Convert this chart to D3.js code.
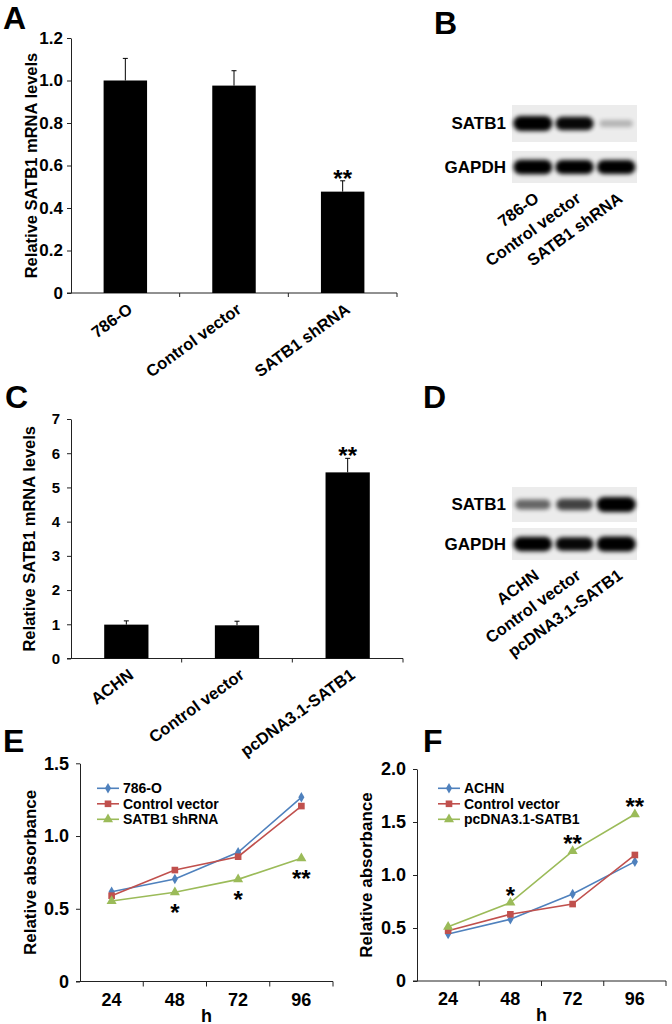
<!DOCTYPE html>
<html><head><meta charset="utf-8">
<script src="https://cdn.jsdelivr.net/npm/d3@7"></script>
<style>
body{margin:0;background:#fff}
svg{display:block;font-family:"Liberation Sans",Arial,Helvetica,sans-serif;font-weight:bold}
</style>
</head><body>
<svg id="c" width="672" height="1024"></svg>
<script>
// ---------- DATA ----------
const catsA = ["786-O", "Control vector", "SATB1 shRNA"];
const valsA = [1.0, 0.976, 0.477];
const errA = [0.104, 0.07, 0.051];
const sigA = ["", "", "**"];
const ticksA = [0, 0.2, 0.4, 0.6, 0.8, 1.0, 1.2];

const catsC = ["ACHN", "Control vector", "pcDNA3.1-SATB1"];
const valsC = [0.99, 0.97, 5.44];
const errC = [0.11, 0.12, 0.41];
const sigC = ["", "", "**"];
const ticksC = [0, 1, 2, 3, 4, 5, 6, 7];

const proteins = ["SATB1", "GAPDH"];
const lanesB = ["786-O", "Control vector", "SATB1 shRNA"];
const satb1B = [1.0, 0.85, 0.12];
const gapdhB = [0.95, 0.88, 0.88];
const lanesD = ["ACHN", "Control vector", "pcDNA3.1-SATB1"];
const satb1D = [0.45, 0.6, 1.0];
const gapdhD = [0.92, 0.85, 1.0];

const hours = ["24", "48", "72", "96"];
const seriesE = ["786-O", "Control vector", "SATB1 shRNA"];
const e786 = [0.617, 0.704, 0.888, 1.266];
const eCtrl = [0.59, 0.766, 0.858, 1.206];
const eSh = [0.553, 0.613, 0.702, 0.847];
const sigE = ["", "*", "*", "**"];
const ticksE = [0, 0.5, 1.0, 1.5];

const seriesF = ["ACHN", "Control vector", "pcDNA3.1-SATB1"];
const fAchn = [0.443, 0.582, 0.821, 1.126];
const fCtrl = [0.475, 0.629, 0.726, 1.189];
const fOver = [0.512, 0.739, 1.226, 1.573];
const sigF = ["", "*", "**", "**"];
const ticksF = [0, 0.5, 1.0, 1.5, 2.0];

const colors = ["#4F81BD", "#C0504D", "#9BBB59"];
const symbols = [d3.symbolDiamond, d3.symbolSquare, d3.symbolTriangle];

// ---------- DRAW ----------
const svg = d3.select("#c");
const defs = svg.append("defs");
defs.append("filter").attr("id","blur").attr("x","-30%").attr("y","-60%").attr("width","160%").attr("height","220%")
  .append("feGaussianBlur").attr("stdDeviation", 2);

function letter(t, x, y) {
  svg.append("text").attr("x", x).attr("y", y).attr("font-size", 32).text(t);
}
function styleAxis(s, fs) {
  s.selectAll("text").attr("font-size", fs).attr("font-weight", "bold").attr("fill", "#000").attr("font-family", null);
  s.selectAll("line,path").attr("stroke", "#222");
}
function yTitle(g, t, x, y, fs) {
  g.append("text").attr("transform", `translate(${x},${y}) rotate(-90)`)
    .attr("text-anchor", "middle").attr("font-size", fs).text(t);
}
function stars(g, t, x, yc, fs) {
  g.append("text").attr("x", x).attr("y", yc + fs * 0.58).attr("text-anchor", "middle")
    .attr("font-size", fs).text(t);
}

function barPanel(o) {
  const g = svg.append("g");
  const x = d3.scaleBand().domain(o.cats).range([o.x0, o.x1]);
  const y = d3.scaleLinear().domain([0, o.max]).range([o.yb, o.yt]);
  g.append("g").attr("transform", `translate(${o.x0},0)`)
    .call(d3.axisLeft(y).tickValues(o.ticks).tickSize(4).tickSizeOuter(0).tickPadding(o.pad).tickFormat(o.fmt))
    .call(s => styleAxis(s, o.tfs));
  g.append("line").attr("x1", o.x0 - 4).attr("x2", o.x1).attr("y1", o.yb).attr("y2", o.yb).attr("stroke", "#222");
  g.selectAll("line.xt").data(o.cats).join("line").attr("class", "xt")
    .attr("x1", d => x(d) + x.bandwidth()).attr("x2", d => x(d) + x.bandwidth())
    .attr("y1", o.yb).attr("y2", o.yb + 4).attr("stroke", "#222");
  const bw = x.bandwidth() * 0.4;
  g.selectAll("rect.bar").data(o.cats).join("rect").attr("class", "bar")
    .attr("x", d => x(d) + x.bandwidth() / 2 - bw / 2).attr("width", bw)
    .attr("y", (d, i) => y(o.vals[i])).attr("height", (d, i) => o.yb - y(o.vals[i]))
    .attr("fill", "#000");
  o.cats.forEach((c, i) => {
    const cx = x(c) + x.bandwidth() / 2;
    const top = y(o.vals[i] + o.errs[i]);
    g.append("line").attr("x1", cx).attr("x2", cx).attr("y1", y(o.vals[i])).attr("y2", top).attr("stroke", "#000");
    g.append("line").attr("x1", cx - 2.5).attr("x2", cx + 2.5).attr("y1", top).attr("y2", top).attr("stroke", "#000");
    if (o.sigs[i]) stars(g, o.sigs[i], cx, top - 8, 24);
    g.append("text").attr("transform", `translate(${cx + 5},${o.yb + 14}) rotate(-36)`)
      .attr("text-anchor", "end").attr("dy", "0.35em").attr("font-size", 16.5).text(c);
  });
  yTitle(g, o.title, o.tx, (o.yb + o.yt) / 2, 16.5);
}

function blotPanel(o) {
  const g = svg.append("g");
  const x = d3.scaleBand().domain(o.lanes).range([o.x0, o.x1]);
  o.rows.forEach((r, ri) => {
    g.append("rect").attr("x", o.x0).attr("y", r.y0).attr("width", o.x1 - o.x0).attr("height", r.y1 - r.y0)
      .attr("fill", "#ececec");
    const cy = (r.y0 + r.y1) / 2;
    o.lanes.forEach((l, li) => {
      const v = r.vals[li];
      const h = 6 + 9 * v;
      const w = x.bandwidth() * (0.78 + 0.16 * v);
      g.append("rect").attr("x", x(l) + x.bandwidth() / 2 - w / 2).attr("y", cy - h / 2)
        .attr("width", w).attr("height", h).attr("rx", h / 2)
        .attr("fill", "#000").attr("opacity", Math.min(1, 0.12 + v))
        .attr("filter", "url(#blur)");
    });
    g.append("text").attr("x", o.x0 - 6).attr("y", cy).attr("dy", "0.35em").attr("text-anchor", "end")
      .attr("font-size", 17).text(proteins[ri]);
  });
  o.lanes.forEach(l => {
    const cx = x(l) + x.bandwidth() / 2;
    g.append("text").attr("transform", `translate(${cx + 4},${o.rows[1].y1 + 13}) rotate(-36)`)
      .attr("text-anchor", "end").attr("dy", "0.35em").attr("font-size", 16.5).text(l);
  });
}

function linePanel(o) {
  const g = svg.append("g");
  const x = d3.scaleBand().domain(hours).range([o.x0, o.x1]);
  const y = d3.scaleLinear().domain([0, o.max]).range([o.yb, o.yt]);
  g.append("g").attr("transform", `translate(${o.x0},0)`)
    .call(d3.axisLeft(y).tickValues(o.ticks).tickSize(4).tickSizeOuter(0).tickPadding(7)
      .tickFormat(d => d === 0 ? "0" : d3.format(".1f")(d)))
    .call(s => styleAxis(s, 18));
  g.append("line").attr("x1", o.x0 - 4).attr("x2", o.x1).attr("y1", o.yb).attr("y2", o.yb).attr("stroke", "#222");
  g.selectAll("line.xt").data(hours).join("line").attr("class", "xt")
    .attr("x1", d => x(d) + x.bandwidth()).attr("x2", d => x(d) + x.bandwidth())
    .attr("y1", o.yb).attr("y2", o.yb + 5).attr("stroke", "#222");
  g.selectAll("text.xl").data(hours).join("text").attr("class", "xl")
    .attr("x", d => x(d) + x.bandwidth() / 2).attr("y", o.yb + 24).attr("text-anchor", "middle")
    .attr("font-size", 18).text(d => d);
  g.append("text").attr("x", (o.x0 + o.x1) / 2).attr("y", o.yb + 40).attr("text-anchor", "middle")
    .attr("font-size", 18).text("h");
  const line = d3.line().x((d, i) => x(hours[i]) + x.bandwidth() / 2).y(d => y(d));
  o.series.forEach((s, si) => {
    g.append("path").attr("d", line(o.data[si])).attr("fill", "none").attr("stroke", colors[si]).attr("stroke-width", 1.6);
    g.selectAll(null).data(o.data[si]).join("path")
      .attr("transform", (d, i) => `translate(${x(hours[i]) + x.bandwidth() / 2},${y(d)})`)
      .attr("d", d3.symbol().type(symbols[si]).size(si === 0 ? 32 : 44)).attr("fill", colors[si]);
    const ly = o.ly + si * 15.5;
    g.append("line").attr("x1", o.lx).attr("x2", o.lx + 22).attr("y1", ly).attr("y2", ly).attr("stroke", colors[si]).attr("stroke-width", 1.6);
    g.append("path").attr("transform", `translate(${o.lx + 11},${ly})`)
      .attr("d", d3.symbol().type(symbols[si]).size(si === 0 ? 32 : 44)).attr("fill", colors[si]);
    g.append("text").attr("x", o.lx + 26).attr("y", ly).attr("dy", "0.35em").attr("font-size", 14).text(s);
  });
  o.sigs.forEach((t, i) => {
    if (!t) return;
    const gy = y(o.data[2][i]);
    stars(g, t, x(hours[i]) + x.bandwidth() / 2, gy + o.starOff, 24);
  });
  yTitle(g, "Relative absorbance", o.tx, (o.yb + o.yt) / 2, 17);
}

// Panel A
letter("A", 3, 29);
barPanel({cats: catsA, vals: valsA, errs: errA, sigs: sigA, ticks: ticksA, max: 1.2,
  x0: 71, x1: 397, yb: 293, yt: 38, fmt: d => d === 0 ? "0" : d3.format(".1f")(d), tfs: 17, pad: 4,
  title: "Relative SATB1 mRNA levels", tx: 37});
// Panel B
letter("B", 434, 34);
blotPanel({lanes: lanesB, x0: 512, x1: 637,
  rows: [{y0: 105, y1: 142, vals: satb1B}, {y0: 151, y1: 183, vals: gapdhB}]});
// Panel C
letter("C", 5, 408);
barPanel({cats: catsC, vals: valsC, errs: errC, sigs: sigC, ticks: ticksC, max: 7,
  x0: 71, x1: 403, yb: 658.5, yt: 419, fmt: d3.format("d"), tfs: 15, pad: 7,
  title: "Relative SATB1 mRNA levels", tx: 35});
// Panel D
letter("D", 423, 408);
blotPanel({lanes: lanesD, x0: 512, x1: 637,
  rows: [{y0: 487, y1: 522, vals: satb1D}, {y0: 528, y1: 560, vals: gapdhD}]});
// Panel E
letter("E", 3, 752);
linePanel({series: seriesE, data: [e786, eCtrl, eSh], sigs: sigE, ticks: ticksE, max: 1.5,
  x0: 80, x1: 333, yb: 981.5, yt: 763.3, lx: 97, ly: 788.3, starOff: 15, tx: 36});
// Panel F
letter("F", 423, 752);
linePanel({series: seriesF, data: [fAchn, fCtrl, fOver], sigs: sigF, ticks: ticksF, max: 2.0,
  x0: 417, x1: 666, yb: 981, yt: 769, lx: 438, ly: 788.3, starOff: -13, tx: 372});
</script>
</body></html>
